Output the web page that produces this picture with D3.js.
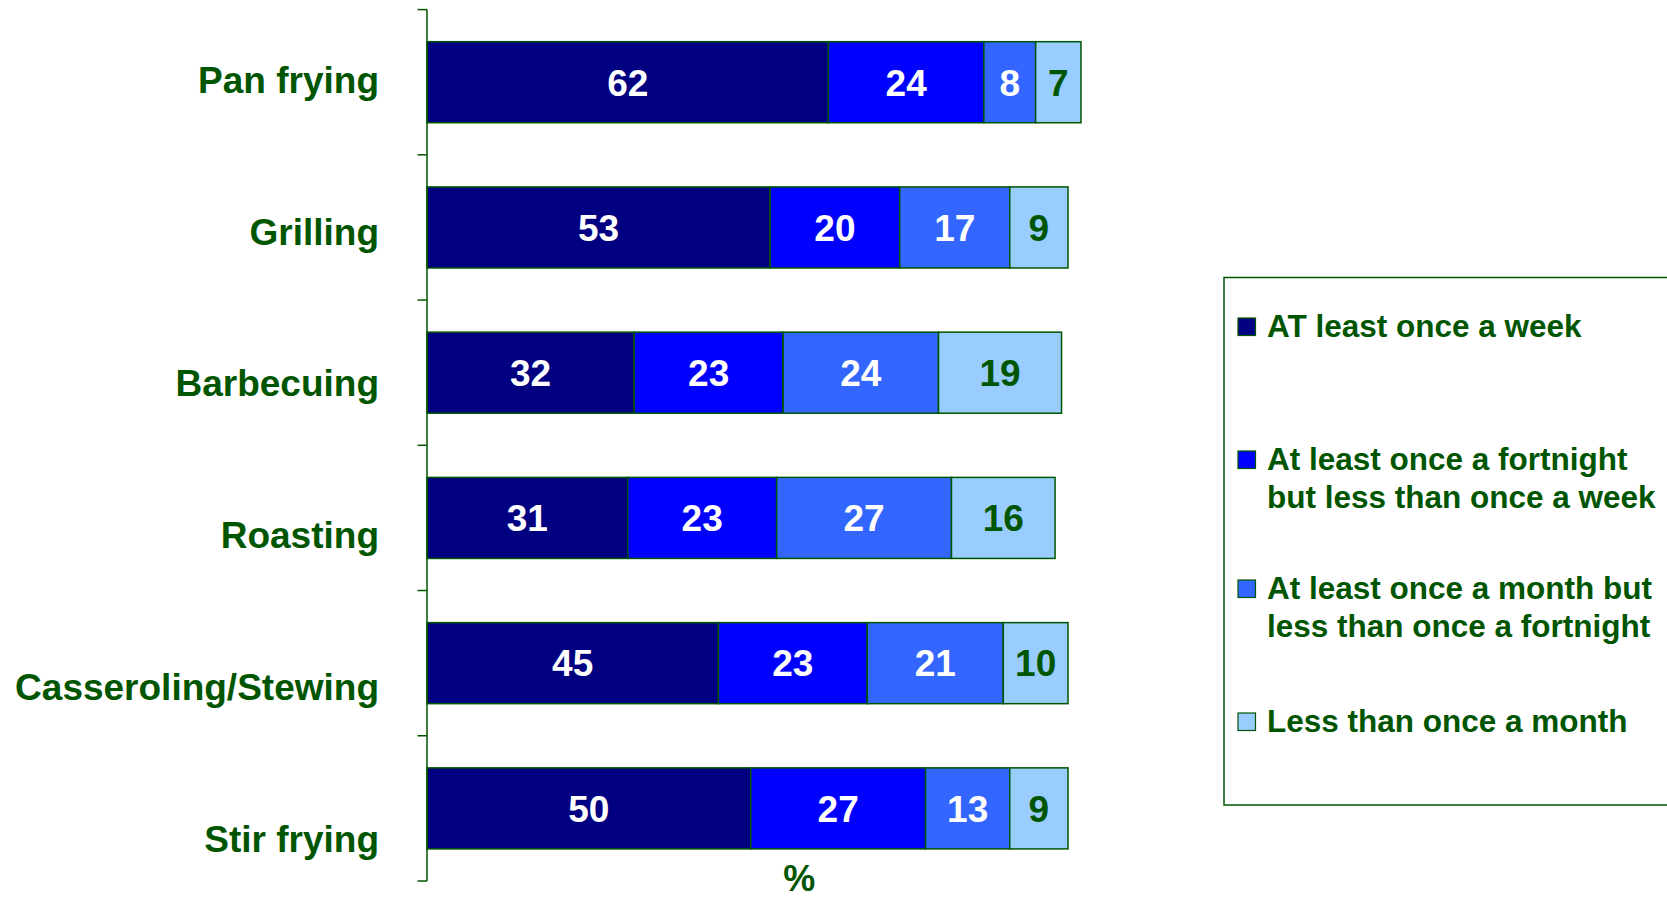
<!DOCTYPE html>
<html>
<head>
<meta charset="utf-8">
<script src="https://cdn.jsdelivr.net/npm/d3@7"></script>
<style>
  html, body { margin: 0; padding: 0; background: #ffffff; }
  svg { display: block; }
  text { font-family: "Liberation Sans", Arial, sans-serif; font-weight: bold; }
</style>
</head>
<body>
<svg id="chart" width="1667" height="900"></svg>
<script>
// ---- data ----
const categories = ["Pan frying", "Grilling", "Barbecuing", "Roasting", "Casseroling/Stewing", "Stir frying"];
const seriesNames = ["AT least once a week", "At least once a fortnight but less than once a week",
                     "At least once a month but less than once a fortnight", "Less than once a month"];
const legendLines = [["AT least once a week"],
                     ["At least once a fortnight", "but less than once a week"],
                     ["At least once a month but", "less than once a fortnight"],
                     ["Less than once a month"]];
const weekly      = [62, 53, 32, 31, 45, 50];
const fortnightly = [24, 20, 23, 23, 23, 27];
const monthly     = [8, 17, 24, 27, 21, 13];
const lessMonthly = [7, 9, 19, 16, 10, 9];
const axisTitle = "%";

// ---- style ----
const green = "#005500";
const colors = ["#000080", "#0000FF", "#3366FF", "#99CCFF"];
const labelColors = ["#ffffff", "#ffffff", "#ffffff", green];

const svg = d3.select("#chart");

const rows = categories.map((c, i) => ({
  category: c,
  values: [weekly[i], fortnightly[i], monthly[i], lessMonthly[i]]
}));

const x = d3.scaleLinear().domain([0, 115]).range([427, 427 + 115 * 6.475]);
const y = d3.scaleBand().domain(categories).range([9.6, 881])
  .paddingInner(0.442).paddingOuter(0.221);
const labelY = d3.scalePoint().domain(categories).range([92.7, 851.7]);

// bars
const g = svg.append("g");
rows.forEach(r => {
  let cum = 0;
  r.values.forEach((v, k) => {
    const x0 = cum, x1 = cum + v;
    cum = x1;
    g.append("rect")
      .attr("x", x(x0)).attr("y", y(r.category))
      .attr("width", x(x1) - x(x0)).attr("height", y.bandwidth())
      .attr("fill", colors[k]).attr("stroke", green).attr("stroke-width", 1.5);
    g.append("text")
      .attr("x", (x(x0) + x(x1)) / 2)
      .attr("y", y(r.category) + y.bandwidth() / 2)
      .attr("dy", "0.36em")
      .attr("text-anchor", "middle")
      .attr("font-size", 37)
      .attr("fill", labelColors[k])
      .text(v);
  });
});

// y axis line + ticks at band boundaries
const step = y.step();
const boundaries = d3.range(categories.length + 1).map(i => 9.6 + i * step);
svg.append("line").attr("x1", x(0)).attr("x2", x(0))
  .attr("y1", boundaries[0]).attr("y2", boundaries[boundaries.length - 1])
  .attr("stroke", green).attr("stroke-width", 1.5);
svg.selectAll(".tick").data(boundaries).join("line")
  .attr("x1", x(0) - 9.5).attr("x2", x(0))
  .attr("y1", d => d).attr("y2", d => d)
  .attr("stroke", green).attr("stroke-width", 1.5);

// category labels
svg.selectAll(".cat").data(categories).join("text")
  .attr("x", 379).attr("y", d => labelY(d))
  .attr("text-anchor", "end").attr("font-size", 37).attr("fill", green)
  .text(d => d);

// axis title
svg.append("text")
  .attr("x", (x.range()[0] + x.range()[1]) / 2).attr("y", 891)
  .attr("text-anchor", "middle").attr("font-size", 36).attr("fill", green)
  .text(axisTitle);

// legend
const lg = svg.append("g");
lg.append("rect").attr("x", 1224).attr("y", 277.5).attr("width", 460).attr("height", 527.5)
  .attr("fill", "none").attr("stroke", green).attr("stroke-width", 1.5);
const legendBaselines = [337, 470, 599, 732];
const lineGap = 37.5;
legendLines.forEach((lines, k) => {
  const b = legendBaselines[k];
  lg.append("rect").attr("x", 1238).attr("y", b - 19).attr("width", 17.5).attr("height", 17.5)
    .attr("fill", colors[k]).attr("stroke", green).attr("stroke-width", 1.2);
  const t = lg.append("text").attr("x", 1267).attr("y", b)
    .attr("font-size", 31.5).attr("fill", green);
  lines.forEach((ln, j) => {
    t.append("tspan").attr("x", 1267).attr("y", b + j * lineGap).text(ln);
  });
});
</script>
</body>
</html>
